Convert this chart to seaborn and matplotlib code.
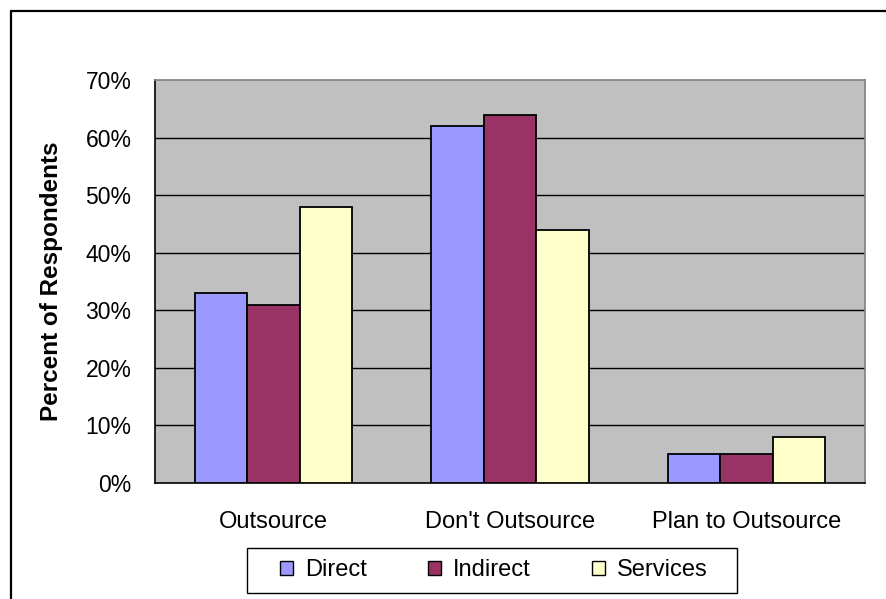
import numpy as np
import pandas as pd
import seaborn as sns
import matplotlib
matplotlib.use("Agg")
import matplotlib.pyplot as plt
from matplotlib.patches import Patch, Rectangle
from matplotlib.lines import Line2D
from matplotlib.ticker import FixedLocator, FuncFormatter

# Survey responses (percent of respondents)
categories = ["Outsource", "Don't Outsource", "Plan to Outsource"]
series = ["Direct", "Indirect", "Services"]
direct = [33, 62, 5]
indirect = [31, 64, 5]
services = [48, 44, 8]
y_ticks = [0, 10, 20, 30, 40, 50, 60, 70]

colors = {"Direct": "#9999FF", "Indirect": "#993366", "Services": "#FFFFCC"}

df = pd.DataFrame({
    "Response": categories * 3,
    "Type": np.repeat(series, len(categories)),
    "Percent": direct + indirect + services,
})

sns.set_style("white")
plt.rcParams["font.family"] = ["Liberation Sans", "DejaVu Sans"]
plt.rcParams["text.color"] = "black"
plt.rcParams["axes.labelcolor"] = "black"
plt.rcParams["xtick.color"] = "black"
plt.rcParams["ytick.color"] = "black"

W, H = 887, 599
fig = plt.figure(figsize=(W / 100, H / 100), dpi=100)
fig.patch.set_facecolor("white")

# plot area in pixel coordinates
x0, x1, y0, y1 = 155, 865, 80, 483
ax = fig.add_axes([x0 / W, 1 - y1 / H, (x1 - x0) / W, (y1 - y0) / H])
ax.set_facecolor("#C0C0C0")

sns.barplot(data=df, x="Response", y="Percent", hue="Type", order=categories,
            hue_order=series, palette=colors, saturation=1, width=0.665, gap=0,
            edgecolor="black", linewidth=1.3, ax=ax, legend=False, zorder=3)

ax.set_ylim(0, 70)
ax.set_xlim(-0.5, 2.5)
ax.yaxis.set_major_locator(FixedLocator(y_ticks))
ax.yaxis.set_major_formatter(FuncFormatter(lambda v, p: f"{int(v)}%"))
for v in y_ticks[1:-1]:
    ax.axhline(v, color="black", lw=1.0, zorder=1)

ax.tick_params(axis="y", which="major", direction="out", length=6, width=1,
               color="black", pad=11, labelsize=16.5, labelcolor="black")
ax.set_xticks(range(len(categories)))
ax.set_xticklabels(categories)
ax.tick_params(axis="x", which="major", length=0, pad=20, labelsize=17,
               labelcolor="black")
ax.set_xticks([-0.5, 0.5, 1.5, 2.5], minor=True)
ax.tick_params(axis="x", which="minor", direction="out", length=6, width=1,
               color="black")
ax.set_xlabel("")
ax.set_ylabel("Percent of Respondents", fontsize=17.5, fontweight="bold",
              labelpad=16, color="black")

for side in ["left", "bottom"]:
    ax.spines[side].set_color("black")
    ax.spines[side].set_linewidth(1.2)
for side in ["top", "right"]:
    ax.spines[side].set_color("#808080")
    ax.spines[side].set_linewidth(1.2)

# legend with its own rectangular frame
handles = [Patch(facecolor=colors[s], edgecolor="black", linewidth=1.0, label=s)
           for s in series]
fig.legend(handles=handles, loc="center", ncol=3, frameon=False, fontsize=17,
           bbox_to_anchor=(494 / W, 1 - 570.5 / H),
           handlelength=0.55, handleheight=0.55, handletextpad=0.5,
           columnspacing=2.6, labelcolor="black")
fig.add_artist(Rectangle((247 / W, 1 - 593 / H), (737 - 247) / W, (593 - 548) / H,
                         transform=fig.transFigure, facecolor="none",
                         edgecolor="black", linewidth=1.0))

# outer chart border (top and left edges)
fig.add_artist(Line2D([11 / W, 1.0], [1 - 11 / H, 1 - 11 / H],
                      transform=fig.transFigure, color="black", lw=1.6))
fig.add_artist(Line2D([11 / W, 11 / W], [0.0, 1 - 11 / H],
                      transform=fig.transFigure, color="black", lw=1.6))

fig.savefig("out.png", dpi=100)
